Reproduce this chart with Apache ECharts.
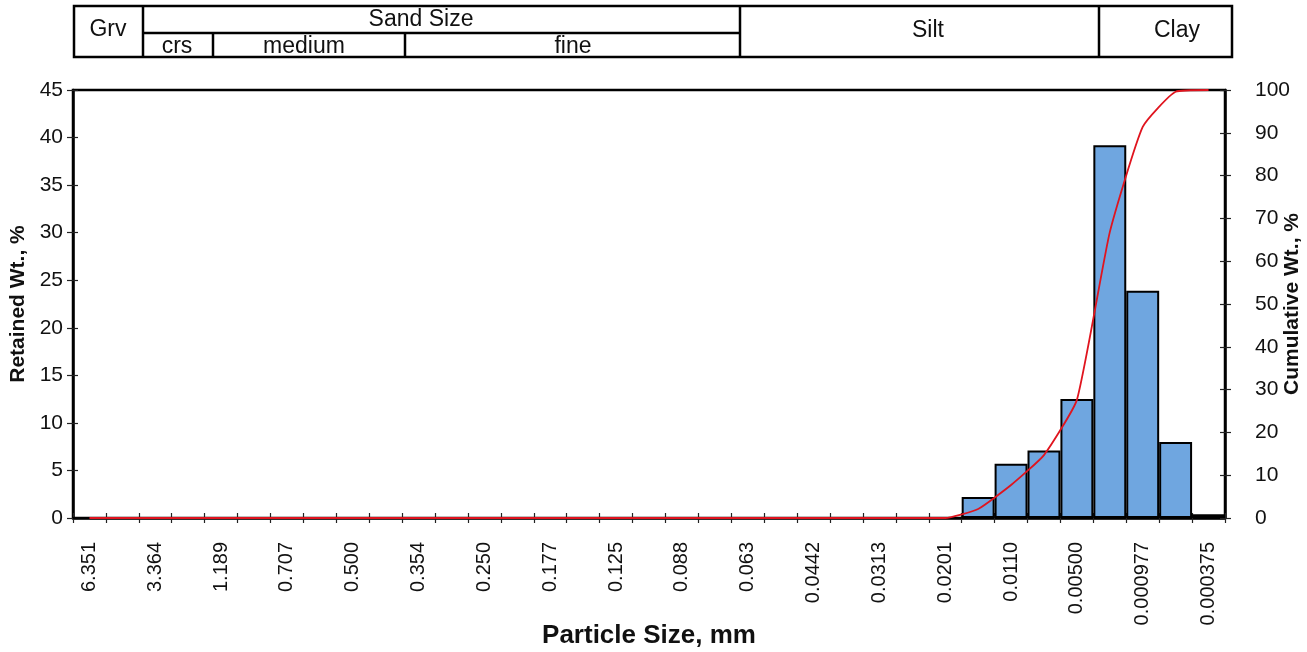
<!DOCTYPE html>
<html>
<head>
<meta charset="utf-8">
<script src="https://cdn.jsdelivr.net/npm/echarts@6/dist/echarts.min.js"></script>
<style>
html,body{margin:0;padding:0;background:#fff;}
#chart{width:1307px;height:652px;}
</style>
</head>
<body>
<div id="chart"></div>
<script>
// Visible tick labels (every other category), particle size in mm
const tickLabels = ['6.351','3.364','1.189','0.707','0.500','0.354','0.250','0.177','0.125',
  '0.088','0.063','0.0442','0.0313','0.0201','0.0110','0.00500','0.000977','0.000375'];
// Retained weight per size class, % (35 classes)
const retained = [0,0,0,0,0,0,0,0,0,0, 0,0,0,0,0,0,0,0,0,0, 0,0,0,0,0,0,0,
  2.2, 5.7, 7.1, 12.5, 39.2, 23.9, 8.0, 0.4];
// Cumulative weight, %
const cumulative = [0,0,0,0,0,0,0,0,0,0, 0,0,0,0,0,0,0,0,0,0, 0,0,0,0,0,0,0,
  2.1, 7.7, 14.7, 27.6, 66.8, 91.4, 99.6, 100];
// Header band labels
const headerMain = ['Grv', 'Sand Size', 'Silt', 'Clay'];
const headerSand = ['crs', 'medium', 'fine'];

// categories: visible labels at even positions, unlabeled classes between
const categories = [];
tickLabels.forEach((t, i) => {
  categories.push(t);
  if (i < tickLabels.length - 1) categories.push('');
});

const FONT = '"Liberation Sans", Arial, sans-serif';
const chart = echarts.init(document.getElementById('chart'), null, {renderer: 'canvas'});

const GL = 73, GT = 90, GW = 1152, GH = 428;

const hdrLine = (x1, y1, x2, y2) => ({type: 'line', shape: {x1, y1, x2, y2},
  style: {stroke: '#000', lineWidth: 2.5}, z: 10});
const hdrText = (text, x, y) => ({type: 'text', x, y,
  style: {text, fill: '#111', font: '23px ' + FONT, textAlign: 'center', textVerticalAlign: 'middle'}, z: 11});

const option = {
  backgroundColor: '#fff',
  animation: false,
  grid: {left: GL, top: GT, width: GW, height: GH, show: true, borderColor: '#000', borderWidth: 2.5,
    containLabel: false, outerBoundsMode: 'none'},
  xAxis: [{
    type: 'category', data: categories, position: 'bottom',
    boundaryGap: true,
    axisLine: {show: true, lineStyle: {color: '#000', width: 2.5}},
    axisTick: {show: true, interval: 0, length: 5, lineStyle: {color: '#222', width: 1.2}},
    axisLabel: {interval: 0, rotate: 90, margin: 24, color: '#111', fontSize: 20, fontFamily: FONT},
    splitLine: {show: false},
    name: 'Particle Size, mm', nameLocation: 'middle', nameGap: 105, nameMoveOverlap: false,
    nameTextStyle: {fontSize: 26, fontWeight: 'bold', color: '#111', fontFamily: FONT}
  }, {
    type: 'category', data: categories, position: 'bottom', gridIndex: 0,
    boundaryGap: true,
    axisLine: {show: false},
    axisTick: {show: true, inside: true, interval: 0, length: 5, lineStyle: {color: '#222', width: 1.2}},
    axisLabel: {show: false}, splitLine: {show: false}
  }],
  yAxis: [{
    type: 'value', min: 0, max: 45, interval: 5, position: 'left',
    axisLine: {show: true, lineStyle: {color: '#000', width: 2.5}},
    axisTick: {show: true, length: 6, lineStyle: {color: '#222', width: 1.2}},
    axisLabel: {margin: 10, color: '#111', fontSize: 21, fontFamily: FONT},
    splitLine: {show: false},
    name: 'Retained Wt., %', nameLocation: 'middle', nameGap: 44, nameRotate: 90, nameMoveOverlap: false,
    nameTextStyle: {fontSize: 21, fontWeight: 'bold', color: '#111', fontFamily: FONT}
  }, {
    type: 'value', min: 0, max: 100, interval: 10, position: 'right',
    axisLine: {show: true, lineStyle: {color: '#000', width: 2.5}},
    axisTick: {show: true, length: 6, lineStyle: {color: '#222', width: 1.2}},
    axisLabel: {margin: 30, color: '#111', fontSize: 21, fontFamily: FONT},
    splitLine: {show: false},
    name: 'Cumulative Wt., %', nameLocation: 'middle', nameGap: 57, nameRotate: 90, nameMoveOverlap: false,
    nameTextStyle: {fontSize: 21, fontWeight: 'bold', color: '#111', fontFamily: FONT}
  }, {
    type: 'value', min: 0, max: 45, interval: 5, position: 'left', offset: 0,
    axisLine: {show: false}, axisLabel: {show: false}, splitLine: {show: false},
    axisTick: {show: true, inside: true, length: 5, lineStyle: {color: '#222', width: 1.2}}
  }, {
    type: 'value', min: 0, max: 100, interval: 10, position: 'right', offset: 0,
    axisLine: {show: false}, axisLabel: {show: false}, splitLine: {show: false},
    axisTick: {show: true, inside: true, length: 5, lineStyle: {color: '#222', width: 1.2}}
  }],
  series: [{
    type: 'bar', name: 'Retained', data: retained, xAxisIndex: 0, yAxisIndex: 0,
    barWidth: '100%', barGap: '0%',
    itemStyle: {color: '#6fa6e0', borderColor: '#000', borderWidth: 2}
  }, {
    type: 'line', name: 'Cumulative', data: cumulative, xAxisIndex: 0, yAxisIndex: 1,
    smooth: 0.15, symbol: 'none',
    lineStyle: {color: '#e0141e', width: 1.8}, z: 5
  }],
  graphic: [
    {type: 'rect', shape: {x: 74, y: 6, width: 1158, height: 51},
      style: {fill: '#fff', stroke: '#000', lineWidth: 2.5}, z: 9},
    hdrLine(143, 6, 143, 57),
    hdrLine(740, 6, 740, 57),
    hdrLine(1099, 6, 1099, 57),
    hdrLine(143, 33, 740, 33),
    hdrLine(213, 33, 213, 57),
    hdrLine(405, 33, 405, 57),
    hdrText(headerMain[0], 108, 30),
    hdrText(headerMain[1], 421, 20),
    hdrText(headerMain[2], 928, 31),
    hdrText(headerMain[3], 1177, 31),
    hdrText(headerSand[0], 177, 47),
    hdrText(headerSand[1], 304, 47),
    hdrText(headerSand[2], 573, 47)
  ]
};
chart.setOption(option);
</script>
</body>
</html>
